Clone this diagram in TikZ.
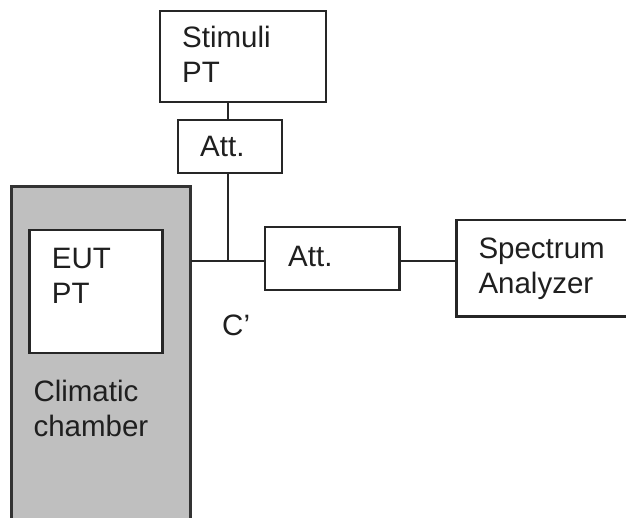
\documentclass[tikz,border=0pt]{standalone}
\usepackage{fontspec}
\setmainfont{Liberation Sans}
\begin{document}
\begin{tikzpicture}[x=1pt,y=-1pt,
  box/.style={draw=black!85, line width=2.6pt, fill=white, inner sep=0pt, outer sep=0pt},
  chamberbox/.style={draw=black!80, line width=3pt, fill=black!25, inner sep=0pt, outer sep=0pt},
  lbl/.style={anchor=base west, inner sep=0pt, align=left, text=black!88,
    font=\fontsize{29.5}{35}\selectfont},
  wire/.style={draw=black!85, line width=2.6pt}]
  \clip (0,0) rectangle (626,518);
  \fill[white] (0,0) rectangle (626,518);

  % instruments and attenuators
  \node[box, minimum width=166pt, minimum height=91pt] (stim) at (243,56.5) {};
  \node[box, minimum width=104pt, minimum height=53pt] (att1) at (230,146.5) {};
  \node[chamberbox, minimum width=179.3pt, minimum height=360pt] (chamber) at (101.3,366.7) {};
  \node[box, minimum width=133.4pt, minimum height=123pt] (eut) at (96,291.5) {};
  \node[box, minimum width=134.5pt, minimum height=63pt] (att2) at (332.25,258.5) {};
  \node[box, minimum width=203.3pt, minimum height=96.7pt] (spec) at (558.35,268.35) {};

  % coupling point
  \coordinate (j) at (228,261);

  % cabling
  \draw[wire] (stim.south -| j) -- (att1.north -| j);
  \draw[wire] (att1.south -| j) -- (j);
  \draw[wire] (chamber.east |- j) -- (att2.west |- j);
  \draw[wire] (att2.east |- j) -- (spec.west |- j);

  % labels (anchored on the baseline of the last line)
  \node[lbl] (tstim) at (182,83) {Stimuli\\PT};
  \node[lbl] (tatt1) at (200,156.7) {Att.};
  \node[lbl] (teut) at (51.7,303.3) {EUT\\PT};
  \node[lbl] (tatt2) at (288,266.7) {Att.};
  \node[lbl] (tspec) at (478.3,293.3) {Spectrum\\Analyzer};
  \node[lbl] (tclim) at (33.3,436.7) {Climatic\\chamber};
  \node[lbl] (tc) at (222,336) {C'};
\end{tikzpicture}
\end{document}
